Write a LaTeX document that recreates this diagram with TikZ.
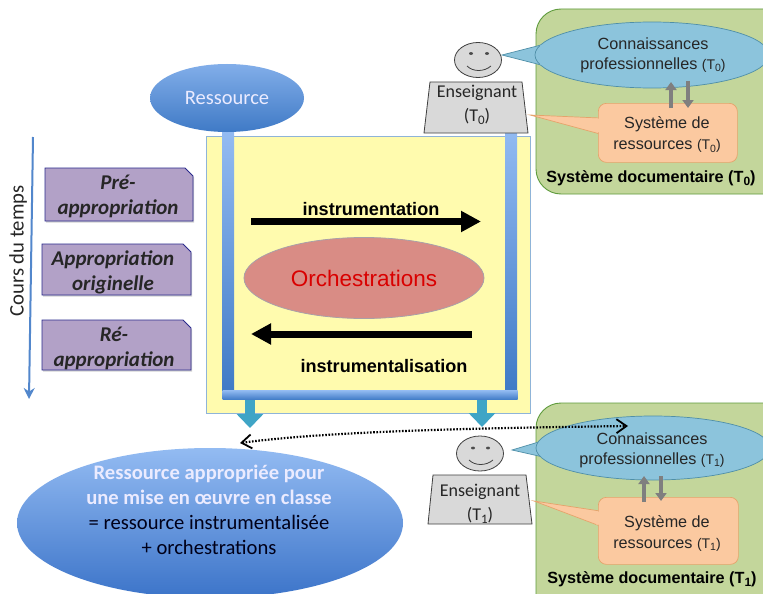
\documentclass[tikz,border=0pt]{standalone}
\usepackage{fontspec}
\setmainfont{Carlito}
\newfontfamily\arialf{Liberation Sans}
\usetikzlibrary{arrows.meta,shapes.geometric,shapes.misc,shapes.arrows,shadows}
\definecolor{framegreen}{HTML}{C3D69B}
\definecolor{frameedge}{HTML}{5E9B3C}
\definecolor{knowblue}{HTML}{8CC4DC}
\definecolor{knowedge}{HTML}{4F8FA8}
\definecolor{resorange}{HTML}{FBC9A0}
\definecolor{resedge}{HTML}{E5A36B}
\definecolor{padyellow}{HTML}{FFFBAE}
\definecolor{padedge}{HTML}{8FB4D8}
\definecolor{barlight}{HTML}{93BBF2}
\definecolor{bardark}{HTML}{3F7AC6}
\definecolor{purplebox}{HTML}{B2A1C7}
\definecolor{purpleedge}{HTML}{2A2A8C}
\definecolor{teacherfill}{HTML}{D9D9D9}
\definecolor{greyarrow}{HTML}{7F7F7F}
\definecolor{tealarrow}{HTML}{3FA5C6}
\definecolor{salmon}{HTML}{D98C85}
\definecolor{salmonedge}{HTML}{A9A0A8}
\definecolor{darktext}{HTML}{262626}
\newcommand{\Tsub}[2][10.5]{(T\raisebox{-0.35ex}{\fontsize{#1}{#1}\selectfont #2})}
\tikzset{
  x=1pt,y=-1pt,
  every node/.style={align=center,inner sep=0pt,text=darktext},
  docframe/.style={draw=frameedge,line width=0.9pt,fill=framegreen,rounded corners=25pt},
  knowledge/.style={ellipse,minimum width=234pt,minimum height=66pt,fill=knowblue,draw=knowedge,line width=0.7pt},
  knowtext/.style={font=\arialf\fontsize{16.2}{20}\selectfont},
  restext/.style={font=\arialf\fontsize{16.2}{21}\selectfont},
  resbox/.style={rounded corners=8pt,fill=resorange,draw=resedge,line width=0.7pt,minimum width=140pt},
  face/.style={ellipse,fill=teacherfill,draw=black!75,line width=0.8pt,minimum width=47pt,minimum height=35pt},
  teacher/.style={fill=teacherfill,draw=black!75,line width=0.8pt},
  purple/.style={fill=purplebox,draw=purpleedge,line width=0.8pt,drop shadow={shadow xshift=1pt,shadow yshift=-1.5pt,opacity=0.35}},
  purpletext/.style={font=\bfseries\itshape\fontsize{21}{25.5}\selectfont,text=black!85},
  bar/.style={top color=barlight,bottom color=bardark,draw=none},
  bluell/.style={ellipse,top color=barlight,bottom color=bardark!95!blue,draw=none},
  blackarrow/.style={line width=7pt,-{Triangle[length=20pt,width=20pt]},draw=black},
  greyarr/.style={line width=3.4pt,-{Triangle[length=8pt,width=11pt]},draw=greyarrow},
  downarrow/.style={line width=10.5pt,-{Triangle[length=14pt,width=26pt]},draw=tealarrow},
  bigword/.style={font=\arialf\bfseries\fontsize{18.1}{20}\selectfont,text=black},
  doclabel/.style={font=\arialf\bfseries\fontsize{16.2}{18}\selectfont,text=black},
  teachertext/.style={font=\fontsize{18}{24}\selectfont},
}
\begin{document}
\begin{tikzpicture}
\useasboundingbox (0,0) rectangle (763,594);
\fill[white] (0,0) rectangle (763,594);

% Document systems
\draw[docframe] (536,9) rectangle (790,194);
\draw[docframe] (536,403) rectangle (790,620);

% Central pad
\node[draw=padedge,fill=padyellow,line width=0.8pt,minimum width=324pt,minimum height=277pt,anchor=north west] (pad) at (206,136) {};

% Down arrows
\coordinate (leftfoot) at (250,397);
\coordinate (lefttip) at (250,428);
\coordinate (rightfoot) at (482,397);
\coordinate (righttip) at (482,427);
\draw[downarrow] (leftfoot) -- (lefttip);
\draw[downarrow] (rightfoot) -- (righttip);

% Bars
\node[bar,minimum width=11.5pt,minimum height=260pt,anchor=north west] (barleft) at (222.5,131) {};
\node[bar,minimum width=12pt,minimum height=264pt,anchor=north west] (barright) at (505,127) {};
\node[top color=barlight,bottom color=bardark,minimum width=295pt,minimum height=9.5pt,anchor=north west] (barbottom) at (222.5,390) {};

% Resource
\node[bluell,minimum width=154pt,minimum height=68pt,top color=barlight!80!bardark,bottom color=bardark] (ressource) at (227,98) {};
\node[font=\fontsize{20.5}{24}\selectfont,text=white!92!blue] (ressourcetext) at (227,98) {Ressource};

% Central arrows and labels
\coordinate (ia) at (251,221.5);
\coordinate (ib) at (481,221.5);
\coordinate (ic) at (472,334);
\coordinate (id) at (251,334);
\draw[blackarrow] (ia) -- (ib);
\draw[blackarrow] (ic) -- (id);
\node[bigword] (instr) at (371,209) {instrumentation};
\node[bigword] (instrum) at (384,366) {instrumentalisation};
\node[ellipse,fill=salmon,draw=salmonedge,line width=0.8pt,minimum width=240pt,minimum height=81pt,
      font=\arialf\fontsize{22.5}{24}\selectfont,text=red!85!black] (orch) at (364,278) {Orchestrations};

% Time arrow
\coordinate (timea) at (33,137);
\coordinate (timeb) at (29,399);
\draw[line width=2pt,draw=bardark!90,-{Stealth[length=11pt,width=11pt]}] (timea) -- (timeb);
\node[rotate=90,font=\fontsize{20.7}{24}\selectfont] (cours) at (18,251) {Cours du temps};

% Purple boxes
\draw[purple] (45,168) -- (185,168) -- (193,176) -- (193,221) -- (45,221) -- cycle;
\draw[purple] (42,244) -- (183,244) -- (191,252) -- (191,295) -- (42,295) -- cycle;
\draw[purple] (42,320) -- (183,320) -- (191,328) -- (191,370) -- (42,370) -- cycle;
\node[purpletext] (pre) at (118,196.5) {Pré-\\appropriation};
\node[purpletext] (orig) at (113,272.5) {Appropriation\\originelle};
\node[purpletext] (re) at (114,348.5) {Ré-\\appropriation};

% T0 teacher
\draw[fill=knowblue,draw=knowedge,line width=0.7pt] (502,55) -- (545,44) -- (545,66) -- cycle;
\node[knowledge] (know0) at (652,55) {};
\fill[knowblue] (540,45.5) -- (550,43) -- (550,67) -- (540,64.5) -- cycle;
\node[knowtext] (know0text) at (653,55) {Connaissances\\professionnelles {\fontsize{14}{14}\selectfont\Tsub{0}}};
\draw[fill=resorange,draw=resedge,line width=0.7pt] (530,115) -- (600,118) -- (600,134) -- cycle;
\node[resbox,minimum height=59pt,anchor=north west,minimum width=139pt] (res0) at (598,103) {};
\fill[resorange] (596,118.5) -- (602,118.5) -- (602,133) -- (596,131.5) -- cycle;
\node[restext] (res0text) at (667,134.5) {Système de\\ressources {\fontsize{14}{14}\selectfont\Tsub{0}}};
\coordinate (up0a) at (671,108);
\coordinate (up0b) at (671,82);
\coordinate (dn0a) at (688,81);
\coordinate (dn0b) at (688,108);
\draw[greyarr] (up0a) -- (up0b);
\draw[greyarr] (dn0a) -- (dn0b);
\node[doclabel] (doc0) at (651,178) {Système documentaire (T\raisebox{-0.35ex}{\fontsize{12}{12}\selectfont 0})};

\node[face] (face0) at (478,60) {};
\fill[black!70] (471,53.5) ellipse (2 and 1.4) (487,53.5) ellipse (2 and 1.4);
\draw[black!75,line width=0.8pt] (467,66) .. controls (473,72) and (484,72) .. (491,66);
\draw[teacher] (430,82) -- (522,82) -- (528,133) -- (424,133) -- cycle;
\node[teachertext] (teach0) at (477,105) {Enseignant\\\Tsub[13]{0}};

% T1 teacher
\draw[fill=knowblue,draw=knowedge,line width=0.7pt] (512,450) -- (552,438) -- (552,459) -- cycle;
\node[knowledge,minimum height=64pt] (know1) at (653,448) {};
\fill[knowblue] (546,439.5) -- (556,437) -- (556,460) -- (546,458) -- cycle;
\node[knowtext] (know1text) at (652,450) {Connaissances\\professionnelles {\fontsize{14}{14}\selectfont\Tsub{1}}};
\draw[fill=resorange,draw=resedge,line width=0.7pt] (534,501) -- (600,511) -- (600,526) -- cycle;
\node[resbox,minimum height=67pt,anchor=north west,minimum width=140pt] (res1) at (598,497) {};
\fill[resorange] (596,511.5) -- (602,511.5) -- (602,525) -- (596,524.5) -- cycle;
\node[restext] (res1text) at (667,533) {Système de\\ressources {\fontsize{14}{14}\selectfont\Tsub{1}}};
\coordinate (up1a) at (644,502);
\coordinate (up1b) at (644,476);
\coordinate (dn1a) at (661,476);
\coordinate (dn1b) at (661,501);
\draw[greyarr] (up1a) -- (up1b);
\draw[greyarr] (dn1a) -- (dn1b);
\node[doclabel] (doc1) at (652,579) {Système documentaire (T\raisebox{-0.35ex}{\fontsize{12}{12}\selectfont 1})};

\node[face] (face1) at (480,453.5) {};
\fill[black!70] (473,448) ellipse (2 and 1.4) (488,448) ellipse (2 and 1.4);
\draw[black!75,line width=0.8pt] (469,460) .. controls (475,466) and (486,466) .. (493,460);
\draw[teacher] (433,475) -- (526,475) -- (532,524) -- (428,524) -- cycle;
\node[teachertext] (teach1) at (480,503.5) {Enseignant\\\Tsub[13]{1}};

% Appropriated resource
\node[bluell,minimum width=386pt,minimum height=150pt] (final) at (210,523) {};
\node[font=\fontsize{20.6}{25}\selectfont,text=black] (finaltext) at (209,509.5) {\textcolor{white!92!blue}{\bfseries Ressource appropriée pour}\\\textcolor{white!92!blue}{\bfseries une mise en œuvre en classe}\\\textcolor{black!90!blue}{= ressource instrumentalisée}\\\textcolor{black!90!blue}{+ orchestrations}};

% Dotted link
\coordinate (dotl) at (240,443);
\coordinate (dotr) at (628,426);
\draw[black,line width=2.2pt,dash pattern=on 1.6pt off 1.6pt,{Straight Barb[length=10pt,width=14pt,line width=1.8pt,sep=0pt]}-{Straight Barb[length=10pt,width=14pt,line width=1.8pt]}] (dotl) .. controls (330,431) and (480,428) .. (dotr);
\end{tikzpicture}
\end{document}
